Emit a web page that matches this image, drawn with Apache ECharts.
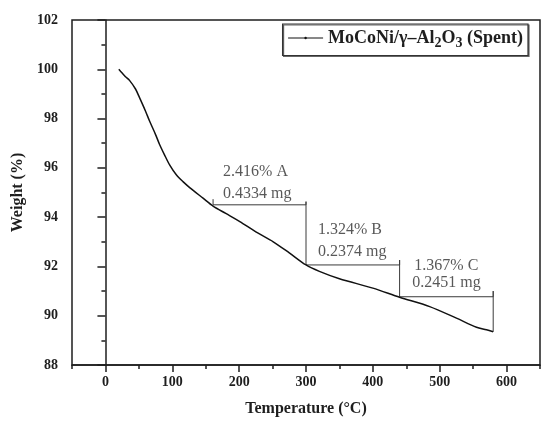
<!DOCTYPE html>
<html>
<head>
<meta charset="utf-8">
<script src="https://cdn.jsdelivr.net/npm/echarts@6/dist/echarts.min.js"></script>
<style>
  html, body { margin: 0; padding: 0; background: #fff; }
  #chart { width: 541px; height: 422px; }
</style>
</head>
<body>
<div id="chart"></div>
<script>
// TGA curve of the spent catalyst: temperature (°C) and weight (%)
const temperature = [20, 25, 30, 36, 45, 51, 60, 66, 75, 81, 88, 96, 106, 116, 126, 146, 161, 180, 201, 225, 251, 275, 300, 320, 350, 400, 440, 485, 525, 555, 570, 580];
const weight = [100.0, 99.85, 99.7, 99.55, 99.2, 98.85, 98.3, 97.9, 97.35, 96.95, 96.55, 96.12, 95.72, 95.44, 95.2, 94.77, 94.45, 94.15, 93.82, 93.4, 93.0, 92.55, 92.06, 91.8, 91.5, 91.12, 90.75, 90.37, 89.9, 89.53, 89.43, 89.35];

const xTicks = [0, 100, 200, 300, 400, 500, 600];
const xMinorTicks = [-50, 50, 150, 250, 350, 450, 550, 650];
const seriesName = 'MoCoNi/γ–Al2O3 (Spent)';

// Weight-loss steps: bracket polylines [T, W]
const stepA = [[161, 94.73], [161, 94.5], [300, 94.5], [300, 94.63], [300, 92.06]];
const stepB = [[300, 92.06], [440, 92.06], [440, 92.26], [440, 90.77]];
const stepC = [[440, 90.77], [580, 90.77], [580, 91.0], [580, 89.35]];

// Step labels: [T, W, text]
const stepLabels = [
  [176, 95.83, '2.416% A'],
  [176, 94.96, '0.4334 mg'],
  [318, 93.47, '1.324% B'],
  [318, 92.6, '0.2374 mg'],
  [462, 92.02, '1.367% C'],
  [459, 91.32, '0.2451 mg']
];

const serif = '"Liberation Serif", "DejaVu Serif", serif';
const ink = '#1e1e1e';

const curve = temperature.map((t, i) => [t, weight[i]]);

const bracketStyle = { color: '#3a3a3a', width: 1 };
function bracket(data) {
  return {
    type: 'line', data: data, symbol: 'none', silent: true,
    lineStyle: bracketStyle, animation: false, z: 3
  };
}

const chart = echarts.init(document.getElementById('chart'), null, { renderer: 'canvas' });
chart.setOption({
  animation: false,
  backgroundColor: '#fff',
  grid: {
    left: 72, right: 1, top: 20, bottom: 57,
    show: true, borderColor: ink, borderWidth: 1.5, backgroundColor: 'transparent'
  },
  legend: {
    data: [seriesName],
    right: 13, top: 24,
    orient: 'vertical',
    itemWidth: 35, itemHeight: 3, itemGap: 6,
    padding: [5, 5, 5, 5],
    borderColor: '#333', borderWidth: 1.2,
    backgroundColor: '#fff',
    shadowColor: '#666', shadowOffsetX: 1, shadowOffsetY: 1, shadowBlur: 0,
    lineStyle: { width: 1, color: '#111' },
    formatter: () => 'MoCoNi/γ–Al{s|2}O{s|3} (Spent)',
    textStyle: {
      fontFamily: serif, fontWeight: 'bold', fontSize: 18, color: ink,
      rich: {
        s: { fontFamily: serif, fontWeight: 'bold', fontSize: 14, color: ink, padding: [11, 0, 0, 0] }
      }
    }
  },
  xAxis: [
    {
      type: 'value', min: -50, max: 650,
      name: 'Temperature (°C)', nameLocation: 'middle', nameGap: 36,
      nameTextStyle: { fontFamily: serif, fontWeight: 'bold', fontSize: 16, color: ink },
      axisLine: { show: true, lineStyle: { color: ink, width: 1.5 } },
      axisTick: { show: true, inside: false, length: 7, lineStyle: { color: ink, width: 1.5 }, customValues: xTicks },
      axisLabel: { customValues: xTicks, margin: 10, fontFamily: serif, fontWeight: 'bold', fontSize: 14, color: ink },
      splitLine: { show: false }
    },
    {
      type: 'value', min: -50, max: 650, position: 'bottom',
      axisLine: { show: false },
      axisTick: { show: true, inside: false, length: 4, lineStyle: { color: ink, width: 1.5 }, customValues: xMinorTicks },
      axisLabel: { show: false },
      splitLine: { show: false }
    }
  ],
  yAxis: {
    type: 'value', min: 88, max: 102, interval: 2,
    name: 'Weight (%)', nameLocation: 'middle', nameGap: 45,
    nameTextStyle: { fontFamily: serif, fontWeight: 'bold', fontSize: 16, color: ink },
    axisLine: { show: true, lineStyle: { color: ink, width: 1.5 } },
    axisTick: { show: true, inside: false, length: 8, lineStyle: { color: ink, width: 1.5 } },
    minorTick: { show: true, splitNumber: 2, length: 4, lineStyle: { color: ink, width: 1.5 } },
    axisLabel: { margin: 14, fontFamily: serif, fontWeight: 'bold', fontSize: 14, color: ink },
    splitLine: { show: false }
  },
  series: [
    {
      name: seriesName, type: 'line', data: curve,
      symbol: 'circle', symbolSize: 3, showSymbol: false, smooth: 0.3,
      lineStyle: { color: '#111', width: 1.5 }, itemStyle: { color: '#111' }, z: 5
    },
    bracket(stepA),
    bracket(stepB),
    bracket(stepC),
    {
      type: 'scatter', silent: true, symbolSize: 0, z: 6,
      data: stepLabels.map(d => ({ value: [d[0], d[1]], name: d[2] })),
      label: {
        show: true, position: 'right', distance: 0,
        formatter: p => p.name,
        fontFamily: serif, fontSize: 16, color: '#2e2e2e'
      }
    }
  ]
});
</script>
</body>
</html>
